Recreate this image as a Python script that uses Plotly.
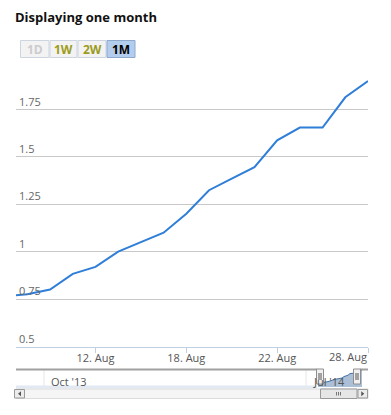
import plotly.graph_objects as go

W, H = 391, 415
# the page body has an 8px margin on every side; size the figure so the page
# exactly fills the window and shift coordinates by the margin
OX, OY = 8, 8
FW, FH = W - 2 * OX, H - 2 * OY

# ---- data ----
dates = ["2014-08-06", "2014-08-07", "2014-08-08", "2014-08-11", "2014-08-12",
         "2014-08-13", "2014-08-14", "2014-08-15", "2014-08-18", "2014-08-19",
         "2014-08-20", "2014-08-21", "2014-08-22", "2014-08-25", "2014-08-26",
         "2014-08-27", "2014-08-28"]
values = [0.765, 0.775, 0.80, 0.883, 0.92,
          1.00, 1.05, 1.10, 1.20, 1.324,
          1.385, 1.445, 1.587, 1.654, 1.654,
          1.814, 1.90]
x_tick_dates = ["2014-08-12", "2014-08-18", "2014-08-22", "2014-08-28"]
x_tick_labels = ["12. Aug", "18. Aug", "22. Aug", "28. Aug"]
y_tick_vals = [0.5, 0.75, 1.0, 1.25, 1.5, 1.75, 2.0]
y_tick_labels = ["0.5", "0.75", "1", "1.25", "1.5", "1.75", ""]
nav_labels = ["Oct '13", "Jul '14"]
buttons = ["1D", "1W", "2W", "1M"]
title_text = "Displaying one month"

FONT = "Open Sans"
def px(x):
    return (x - OX) / FW
def py(y):
    return 1 - (y - OY) / FH

# the last x label is kept inside the chart (right-aligned to its tick) like the original
x_tick_text = list(x_tick_labels[:-1]) + [""]

fig = go.Figure()

# main series
fig.add_trace(go.Scatter(x=dates, y=values, mode="lines",
                         line=dict(color="#2f7ed8", width=2),
                         xaxis="x", yaxis="y", showlegend=False, hoverinfo="skip"))
# navigator series
fig.add_trace(go.Scatter(x=dates, y=values, mode="lines", fill="tozeroy",
                         fillcolor="rgba(69,114,167,0.45)",
                         line=dict(color="#4572a7", width=1),
                         xaxis="x2", yaxis="y2", showlegend=False, hoverinfo="skip"))

shapes = []
annotations = []

annotations.append(dict(text=x_tick_labels[-1], xref="x", yref="paper",
                        x=x_tick_dates[-1], y=py(356.5), showarrow=False,
                        xanchor="right", yanchor="middle", xshift=1,
                        font=dict(family=FONT, size=11, color="#555555")))

# range selector buttons
btn_x = [(20.5, 49), (50, 77), (78, 106), (107, 135)]
btn_colors = ["#cccccc", "#9c9c1c", "#9c9c1c", "#000000"]
for (x0, x1), lab, c in zip(btn_x, buttons, btn_colors):
    sel = lab == "1M"
    shapes.append(dict(type="rect", xref="paper", yref="paper",
                       x0=px(x0), x1=px(x1), y0=py(57.5), y1=py(40.5),
                       fillcolor="#b3cdef" if sel else "#f3f3f3",
                       line=dict(color="#8fa9cc" if sel else "#cdd5e0", width=1),
                       layer="below"))
    annotations.append(dict(text="<b>%s</b>" % lab, xref="paper", yref="paper",
                            x=px((x0 + x1) / 2), y=py(49.5), showarrow=False,
                            xanchor="center", yanchor="middle",
                            font=dict(family=FONT, size=12, color=c)))

# navigator chrome
NL, NR = 16, 368
shapes.append(dict(type="rect", xref="paper", yref="paper",
                   x0=px(NL), x1=px(317), y0=py(388.5), y1=py(385.5),
                   fillcolor="#e2e9f3", line=dict(width=0)))
for gx in (44, 306):
    shapes.append(dict(type="line", xref="paper", yref="paper",
                       x0=px(gx), x1=px(gx), y0=py(386), y1=py(370),
                       line=dict(color="#e6e6e6", width=1)))
for gx, lab in zip((49, 311), nav_labels):
    annotations.append(dict(text=lab, xref="paper", yref="paper",
                            x=px(gx), y=py(381), showarrow=False,
                            xanchor="left", yanchor="middle",
                            font=dict(family=FONT, size=11, color="#555555")))
shapes.append(dict(type="line", xref="paper", yref="paper",
                   x0=px(NL), x1=px(317), y0=py(369.5), y1=py(369.5),
                   line=dict(color="#a0a0a0", width=2)))
shapes.append(dict(type="line", xref="paper", yref="paper",
                   x0=px(360), x1=px(NR), y0=py(369.5), y1=py(369.5),
                   line=dict(color="#a0a0a0", width=2)))
shapes.append(dict(type="rect", xref="paper", yref="paper",
                   x0=px(NL), x1=px(NR), y0=py(398.5), y1=py(389),
                   fillcolor="#f5f5f5", line=dict(color="#dcdcdc", width=1)))
for bx0, bx1, arrow in ((14.5, 24.5, "left"), (358, 367.5, "right")):
    shapes.append(dict(type="rect", xref="paper", yref="paper",
                       x0=px(bx0), x1=px(bx1), y0=py(398), y1=py(389.5),
                       fillcolor="#ececec", line=dict(color="#9a9a9a", width=1)))
    cx, cy = (bx0 + bx1) / 2, 393.8
    if arrow == "left":
        path = "M %f %f L %f %f L %f %f Z" % (px(cx - 1.5), py(cy), px(cx + 1.5), py(cy - 2.5), px(cx + 1.5), py(cy + 2.5))
    else:
        path = "M %f %f L %f %f L %f %f Z" % (px(cx + 1.5), py(cy), px(cx - 1.5), py(cy - 2.5), px(cx - 1.5), py(cy + 2.5))
    shapes.append(dict(type="path", xref="paper", yref="paper", path=path,
                       fillcolor="#555555", line=dict(width=0)))
shapes.append(dict(type="rect", xref="paper", yref="paper",
                   x0=px(320.5), x1=px(357), y0=py(398.5), y1=py(389),
                   fillcolor="#e6e6e6", line=dict(color="#999999", width=1)))
for gx in (336.5, 338.5, 340.5):
    shapes.append(dict(type="line", xref="paper", yref="paper",
                       x0=px(gx), x1=px(gx), y0=py(395.5), y1=py(392),
                       line=dict(color="#777777", width=1)))
for hx0, hx1 in ((316.5, 323.5), (353.5, 360.5)):
    shapes.append(dict(type="rect", xref="paper", yref="paper",
                       x0=px(hx0), x1=px(hx1), y0=py(384), y1=py(369),
                       fillcolor="#f2efef", line=dict(color="#8e8e8e", width=1)))
    for lx in (hx0 + 2.5, hx0 + 4.5):
        shapes.append(dict(type="line", xref="paper", yref="paper",
                           x0=px(lx), x1=px(lx), y0=py(380), y1=py(373),
                           line=dict(color="#555555", width=1)))

fig.update_layout(
    width=FW, height=FH,
    margin=dict(l=0, r=0, t=0, b=0),
    paper_bgcolor="white", plot_bgcolor="white",
    font=dict(family=FONT, size=11, color="#666666"),
    title=dict(text="<b>%s</b>" % title_text, x=px(15), xref="paper", xanchor="left",
               y=py(17), yref="container", yanchor="middle",
               font=dict(family=FONT, size=13, color="#111111")),
    xaxis=dict(type="date", domain=[px(16), px(368)],
               range=["2014-08-06 12:00", "2014-08-28"],
               rangebreaks=[dict(bounds=["sat", "mon"])],
               tickvals=x_tick_dates, ticktext=x_tick_text,
               ticklabelstandoff=-4,
               showgrid=False, zeroline=False,
               showline=True, linecolor="#c0d0e0", linewidth=1,
               ticks="outside", ticklen=5, tickcolor="#c0d0e0",
               tickfont=dict(family=FONT, size=11, color="#555555"),
               anchor="y"),
    yaxis=dict(domain=[py(346.5), py(62)], range=[0.5, 2.0],
               tickvals=y_tick_vals, ticktext=y_tick_labels,
               ticklabelposition="inside top",
               showgrid=True, gridcolor="#c8c8c8", gridwidth=1,
               zeroline=False, showline=False, ticks="",
               tickfont=dict(family=FONT, size=11, color="#666666"),
               anchor="x"),
    xaxis2=dict(type="date", domain=[px(16), px(368)],
                range=["2014-03-08", "2014-08-31"],
                showticklabels=False, showgrid=False, zeroline=False,
                showline=False, ticks="", anchor="y2"),
    yaxis2=dict(domain=[py(387), py(369)], range=[0.415, 1.987],
                showticklabels=False, showgrid=False, zeroline=False,
                showline=False, ticks="", anchor="x2"),
    shapes=shapes,
    annotations=annotations,
)

fig.write_html("out.html")
